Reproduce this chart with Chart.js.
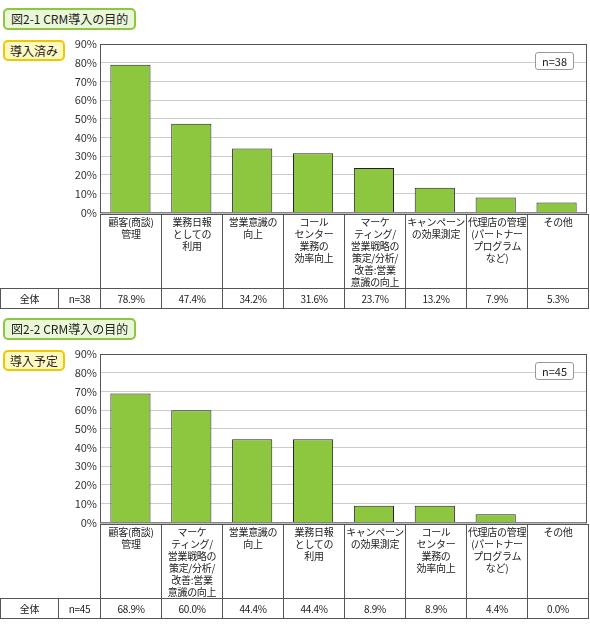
<!DOCTYPE html>
<html><head><meta charset="utf-8">
<script src="https://cdn.jsdelivr.net/npm/chart.js@4"></script>
<style>
body{margin:0;background:#fff;font-family:"Noto Sans CJK JP",sans-serif;font-size:10px;color:#222;}
.wrap{position:absolute;left:0;width:590px;}
.title{position:absolute;left:3px;top:0;padding:0 6px;border:2px solid #8dc63f;border-radius:5px;background:#eaf6d8;font-size:12px;line-height:18px;}
.tag{position:absolute;left:3px;padding:0 5px;border:2px solid #f0c800;border-radius:5px;background:#fff8c0;font-size:12px;line-height:17px;}
.nbox{position:absolute;left:535px;padding:0 6px;border:1px solid #999;border-radius:3px;background:#fff;font-size:11px;line-height:16px;}
canvas{position:absolute;left:40px;}
table{position:absolute;left:0;border-collapse:collapse;table-layout:fixed;}
td{border:1px solid #555;text-align:center;vertical-align:top;padding:0;line-height:12px;white-space:nowrap;overflow:hidden;letter-spacing:-0.3px;}
td.blank{border:none;}
</style></head><body>
<div id="root"></div>
<script>
const labels1 = [['顧客(商談)','管理'],['業務日報','としての','利用'],['営業意識の','向上'],['コール','センター','業務の','効率向上'],['マーケ','ティング/','営業戦略の','策定/分析/','改善:営業','意識の向上'],['キャンペーン','の効果測定'],['代理店の管理','(パートナー','プログラム','など)'],['その他']];
const values1 = [78.9, 47.4, 34.2, 31.6, 23.7, 13.2, 7.9, 5.3];
const labels2 = [['顧客(商談)','管理'],['マーケ','ティング/','営業戦略の','策定/分析/','改善:営業','意識の向上'],['営業意識の','向上'],['業務日報','としての','利用'],['キャンペーン','の効果測定'],['コール','センター','業務の','効率向上'],['代理店の管理','(パートナー','プログラム','など)'],['その他']];
const values2 = [68.9, 60.0, 44.4, 44.4, 8.9, 8.9, 4.4, 0.0];
const yTicks = [0, 10, 20, 30, 40, 50, 60, 70, 80, 90];

function panel(top, title, tag, n, labels, values) {
  const w = document.createElement('div');
  w.className = 'wrap'; w.style.top = top + 'px'; w.style.height = '310px';
  let html = `<div class="title">${title}</div><div class="tag" style="top:32px">${tag}</div>`;
  html += `<canvas id="c${top}" width="547" height="190" style="top:24px;width:547px;height:190px"></canvas>`;
  html += `<div class="nbox" style="top:44px">n=${n}</div>`;
  let cols = '<col style="width:58px"><col style="width:42px">' + labels.map(() => '<col style="width:61px">').join('');
  html += `<table style="top:206px;width:588px">${cols}<tr style="height:73px"><td class="blank" colspan="2"></td>` +
    labels.map(l => `<td><div style="height:72px;padding-top:1px">${l.join('<br>')}</div></td>`).join('') + '</tr>' +
    `<tr style="height:20px"><td style="vertical-align:middle">全体</td><td style="vertical-align:middle">n=${n}</td>` +
    values.map(v => `<td style="vertical-align:middle">${v.toFixed(1)}%</td>`).join('') + '</tr></table>';
  w.innerHTML = html;
  document.getElementById('root').appendChild(w);
  new Chart(document.getElementById('c' + top), {
    type: 'bar',
    data: {
      labels: labels.map(l => l.join('')),
      datasets: [{ data: values, backgroundColor: '#8dc63f', borderColor: '#222', borderWidth: 1, barPercentage: 0.66, categoryPercentage: 1 }]
    },
    options: {
      responsive: false, animation: false,
      layout: { padding: { top: 12, right: 0, bottom: 0, left: 0 } },
      plugins: { legend: { display: false }, tooltip: { enabled: false } },
      scales: {
        x: { display: false },
        y: {
          min: 0, max: 90, afterFit: s => { s.width = 60; },
          afterBuildTicks: s => { s.ticks = yTicks.map(v => ({ value: v })); },
          ticks: { callback: v => v + '%', color: '#333', font: { size: 11, family: 'Noto Sans CJK JP' } },
          grid: { color: '#cccccc', drawTicks: false },
          border: { color: '#555' }
        }
      }
    },
    plugins: [{ id: 'frame', afterDraw(c) {
      const a = c.chartArea, x = c.ctx;
      x.save(); x.strokeStyle = '#555'; x.lineWidth = 1;
      x.strokeRect(a.left + 0.5, a.top + 0.5, a.right - a.left - 1, a.bottom - a.top);
      x.restore();
    } }]
  });
}
panel(8, '図2-1 CRM導入の目的', '導入済み', 38, labels1, values1);
panel(318, '図2-2 CRM導入の目的', '導入予定', 45, labels2, values2);
</script>
</body></html>
